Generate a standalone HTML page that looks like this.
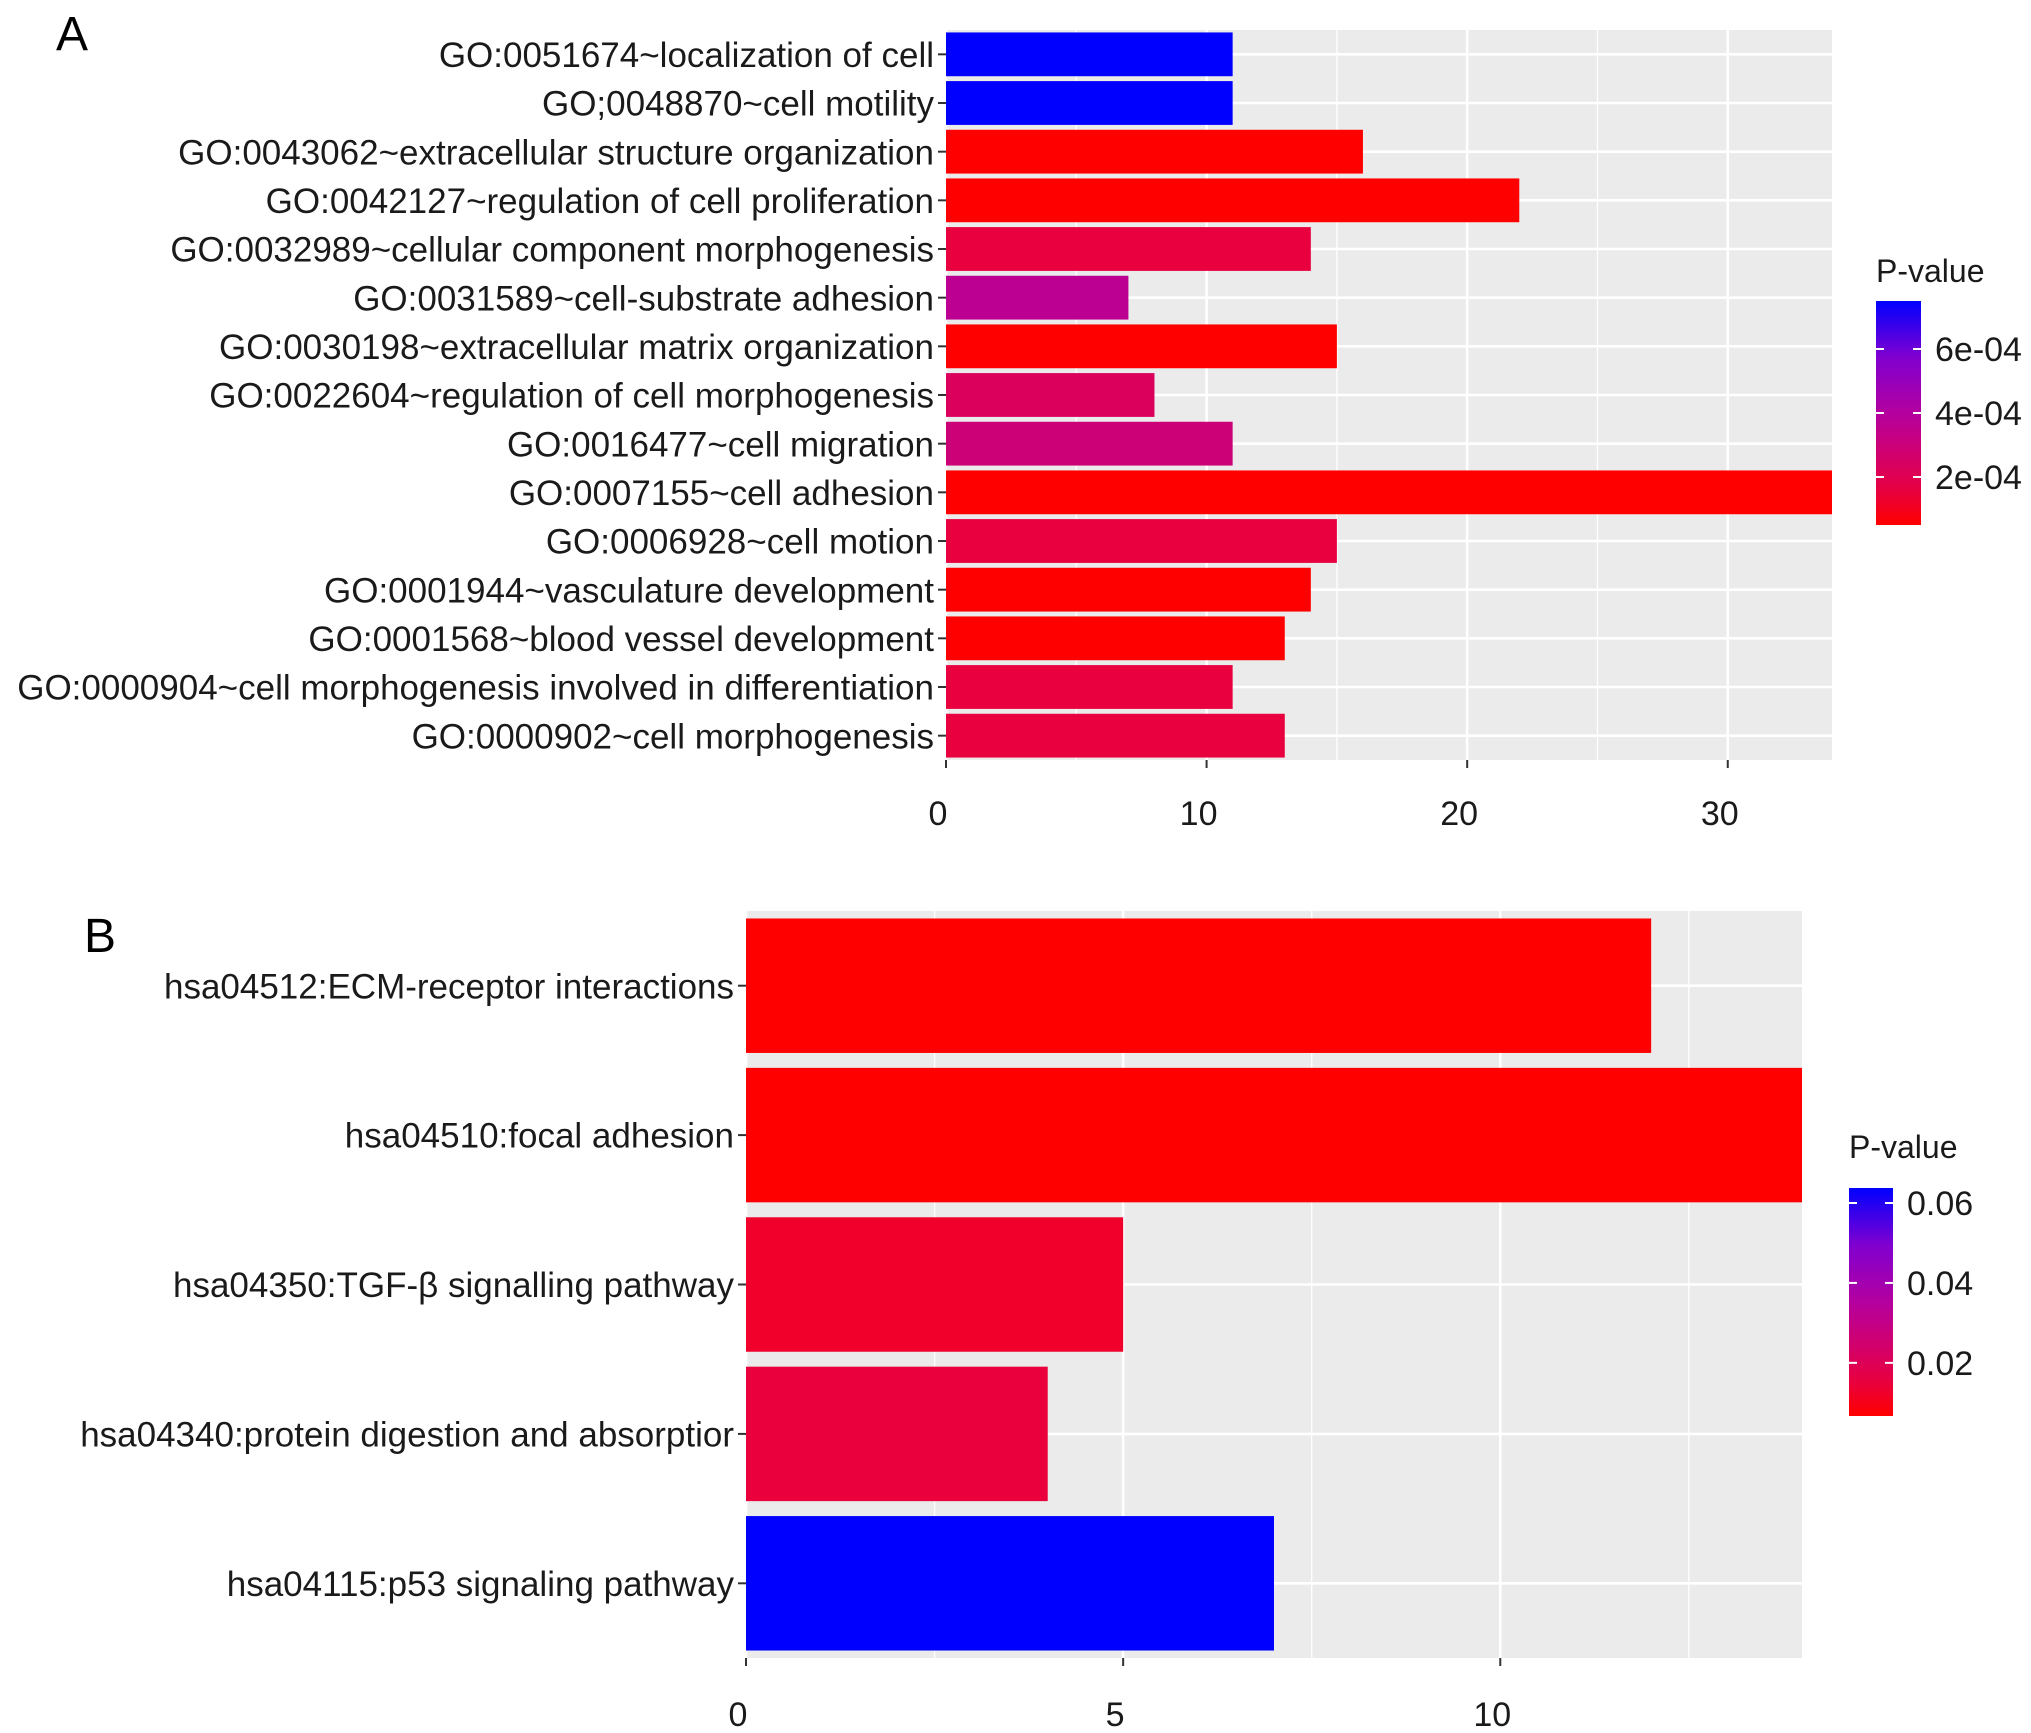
<!DOCTYPE html>
<html><head><meta charset="utf-8"><style>
html,body{margin:0;padding:0;background:#fff;}
svg{display:block;font-family:"Liberation Sans",sans-serif;}
</style></head><body>
<svg id="chart" width="2031" height="1733" viewBox="0 0 2031 1733" xmlns="http://www.w3.org/2000/svg">
<defs>
<linearGradient id="gradA" x1="0" y1="1" x2="0" y2="0">
<stop offset="0" stop-color="#ff0000"/><stop offset="0.15" stop-color="#e8003f"/><stop offset="0.35" stop-color="#cc0077"/><stop offset="0.5" stop-color="#b4009f"/><stop offset="0.75" stop-color="#8000d0"/><stop offset="1" stop-color="#0000ff"/>
</linearGradient>
</defs>
<g id="panelA"></g>
<g id="panelB"></g>
</svg>
<script>
const goTerms = ["GO:0051674~localization of cell","GO;0048870~cell motility","GO:0043062~extracellular structure organization","GO:0042127~regulation of cell proliferation","GO:0032989~cellular component morphogenesis","GO:0031589~cell-substrate adhesion","GO:0030198~extracellular matrix organization","GO:0022604~regulation of cell morphogenesis","GO:0016477~cell migration","GO:0007155~cell adhesion","GO:0006928~cell motion","GO:0001944~vasculature development","GO:0001568~blood vessel development","GO:0000904~cell morphogenesis involved in differentiation","GO:0000902~cell morphogenesis"];
const goCounts = [11,11,16,22,14,7,15,8,11,34,15,14,13,11,13];
const goPvalues = [7.5e-4,7.5e-4,0.5e-4,0.5e-4,1.55e-4,3.65e-4,0.5e-4,2.25e-4,2.95e-4,0.5e-4,1.55e-4,0.5e-4,0.5e-4,1.55e-4,1.55e-4];
const goXTicks = [0,10,20,30];
const goLegendTicks = [6e-4,4e-4,2e-4];
const goLegendLabels = ["6e-04","4e-04","2e-04"];

const keggTerms = ["hsa04512:ECM-receptor interactions","hsa04510:focal adhesion","hsa04350:TGF-\u03b2 signalling pathway","hsa04340:protein digestion and absorptior","hsa04115:p53 signaling pathway"];
const keggCounts = [12,14,5,4,7];
const keggPvalues = [0.0067,0.0067,0.0124,0.015,0.0637];
const keggXTicks = [0,5,10];
const keggLegendTicks = [0.06,0.04,0.02];
const keggLegendLabels = ["0.06","0.04","0.02"];

const NS="http://www.w3.org/2000/svg";
const stops=[[0,[255,0,0]],[0.15,[232,0,63]],[0.35,[204,0,119]],[0.5,[180,0,159]],[0.75,[128,0,208]],[1,[0,0,255]]];
function colorAt(t){t=Math.max(0,Math.min(1,t));for(let i=1;i<stops.length;i++){if(t<=stops[i][0]){const a=stops[i-1],b=stops[i];const f=(t-a[0])/(b[0]-a[0]);const c=a[1].map((v,k)=>Math.round(v+(b[1][k]-v)*f));return`rgb(${c.join(',')})`;}}return'rgb(0,0,255)';}
function mk(tag,attrs,parent){const e=document.createElementNS(NS,tag);for(const k in attrs)e.setAttribute(k,attrs[k]);parent.appendChild(e);return e;}

function drawPanel(g,cfg){
  const {L,R,T,B,xmax,terms,counts,pvals,xticks,minorStep,pmin,pmax,leg,legTicks,legLabels,letter,letterPos,fs,tickY}=cfg;
  const xs=v=>L+(v/xmax)*(R-L);
  const n=terms.length,bandH=(B-T)/n;
  const yc=i=>T+bandH*(i+0.5);
  const bg=mk('rect',{x:L,y:T,width:R-L,height:B-T,fill:'#ebebeb'},g);
  
  
  for(let v=minorStep;v<xmax;v+=minorStep*2){const l=mk('line',{x1:xs(v),x2:xs(v),y1:T,y2:B,stroke:'#fff','stroke-width':1.3},g);}
  xticks.forEach(v=>{const l=mk('line',{x1:xs(v),x2:xs(v),y1:T,y2:B,stroke:'#fff','stroke-width':2.6},g);});
  terms.forEach((t,i)=>{const l=mk('line',{x1:L,x2:R,y1:yc(i),y2:yc(i),stroke:'#fff','stroke-width':2.6},g);});
  terms.forEach((t,i)=>{
    const h=bandH*0.9;
    const r=mk('rect',{x:xs(0),y:yc(i)-h/2,width:xs(counts[i])-xs(0),height:h,fill:colorAt((pvals[i]-pmin)/(pmax-pmin))},g);
    
    
    const tk=mk('line',{x1:L-8,x2:L,y1:yc(i),y2:yc(i),stroke:'#333','stroke-width':2},g);
    
    
    const tx=mk('text',{x:L-12,y:yc(i)+fs*0.36,'text-anchor':'end','font-size':fs,fill:'#1a1a1a'},g);
    tx.textContent=t;
    
    
  });
  xticks.forEach(v=>{
    const tk=mk('line',{x1:xs(v),x2:xs(v),y1:B,y2:B+8,stroke:'#333','stroke-width':2},g);
    
    
    const tx=mk('text',{x:xs(v)-8,y:tickY,'text-anchor':'middle','font-size':34,fill:'#1a1a1a'},g);
    tx.textContent=v;
    
    
  });
  const lt=mk('text',{x:letterPos[0],y:letterPos[1],'font-size':48,fill:'#000'},g);
  lt.textContent=letter;
  
  
  const title=mk('text',{x:leg.x,y:leg.titleY,'font-size':32,fill:'#1a1a1a'},g);
  title.textContent='P-value';
  
  
  const cb=mk('rect',{x:leg.x,y:leg.top,width:leg.w,height:leg.bot-leg.top,fill:'url(#gradA)'},g);
  
  
  const ly=p=>leg.bot-(p-pmin)/(pmax-pmin)*(leg.bot-leg.top);
  legTicks.forEach((p,i)=>{
    const y=ly(p);
    mk('line',{x1:leg.x,x2:leg.x+8,y1:y,y2:y,stroke:'#fff','stroke-width':2},g);
    mk('line',{x1:leg.x+leg.w-8,x2:leg.x+leg.w,y1:y,y2:y,stroke:'#fff','stroke-width':2},g);
    const tx=mk('text',{x:leg.x+leg.w+14,y:y+12,'font-size':34,fill:'#1a1a1a'},g);
    tx.textContent=legLabels[i];
    
    
  });
}
drawPanel(document.getElementById('panelA'),{L:946,R:1832,T:30,B:760,xmax:34,terms:goTerms,counts:goCounts,pvals:goPvalues,xticks:goXTicks,minorStep:5,pmin:0.5e-4,pmax:7.5e-4,leg:{x:1876,w:45,top:301,bot:525,titleY:282},legTicks:goLegendTicks,legLabels:goLegendLabels,letter:'A',letterPos:[56,50],fs:35,tickY:825});
drawPanel(document.getElementById('panelB'),{L:746,R:1802,T:911,B:1658,xmax:14,terms:keggTerms,counts:keggCounts,pvals:keggPvalues,xticks:keggXTicks,minorStep:2.5,pmin:0.0067,pmax:0.06375,leg:{x:1849,w:44,top:1188,bot:1416,titleY:1158},legTicks:keggLegendTicks,legLabels:keggLegendLabels,letter:'B',letterPos:[84,952],fs:35,tickY:1726});
</script>
</body></html>
